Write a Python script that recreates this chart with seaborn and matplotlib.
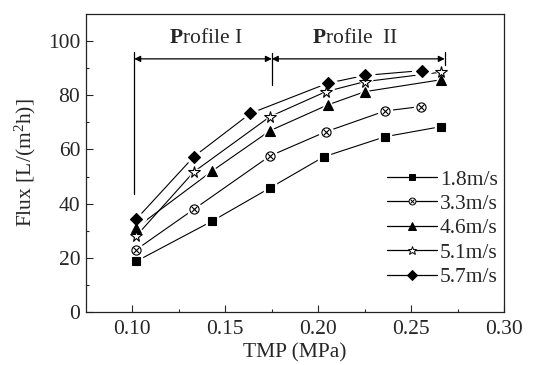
import matplotlib
matplotlib.use("Agg")
import matplotlib.pyplot as plt
import seaborn as sns
import pandas as pd
from matplotlib.lines import Line2D
from matplotlib.legend_handler import HandlerTuple

# ---- data ----
labels = ["1.8m/s", "3.3m/s", "4.6m/s", "5.1m/s", "5.7m/s"]
x_18 = [0.102, 0.143, 0.174, 0.203, 0.236, 0.266]
y_18 = [18.7, 33.6, 45.8, 57.3, 64.7, 68.4]
x_33 = [0.102, 0.133, 0.174, 0.204, 0.236, 0.255]
y_33 = [23.0, 37.9, 57.6, 66.5, 74.2, 75.8]
x_46 = [0.102, 0.143, 0.174, 0.205, 0.225, 0.266]
y_46 = [31.1, 52.1, 66.9, 76.4, 81.3, 85.7]
x_51 = [0.102, 0.133, 0.174, 0.204, 0.225, 0.266]
y_51 = [28.0, 51.7, 72.1, 81.3, 85.0, 88.5]
x_57 = [0.102, 0.133, 0.1635, 0.205, 0.225, 0.256]
y_57 = [34.2, 57.3, 73.3, 84.4, 87.3, 89.1]
xticks = [0.10, 0.15, 0.20, 0.25, 0.30]
yticks = [0, 20, 40, 60, 80, 100]

sns.set_style("ticks")
plt.rcParams["font.family"] = ["Liberation Serif", "DejaVu Serif"]
plt.rcParams["mathtext.fontset"] = "custom"
plt.rcParams["mathtext.rm"] = "Liberation Serif"
plt.rcParams["mathtext.it"] = "Liberation Serif:italic"
plt.rcParams["mathtext.bf"] = "Liberation Serif:bold"

FS = 15.5
fig = plt.figure(figsize=(5.37, 3.65), dpi=100)
ax = fig.add_axes([0.160, 0.145, 0.779, 0.817])

series = [
    (x_18, y_18, "s", "k", 5.8),
    (x_33, y_33, "o", "white", 6.6),
    (x_46, y_46, "^", "k", 7.5),
    (x_51, y_51, "*", "white", 8.5),
    (x_57, y_57, "D", "k", 6.3),
]

handles = []
for (xs, ys, mk, fc, ms), lab in zip(series, labels):
    df = pd.DataFrame({"x": xs, "y": ys})
    sns.lineplot(data=df, x="x", y="y", ax=ax, color="k", lw=0.8,
                 sort=False, zorder=2)
    # white halo to make gaps around markers
    ax.plot(xs, ys, ls="none", marker=mk, ms=ms + 3.5, mfc="white",
            mec="white", zorder=3)
    ax.plot(xs, ys, ls="none", marker=mk, ms=ms, mfc=fc, mec="k",
            mew=0.8, zorder=4)
    if mk == "o":
        ax.plot(xs, ys, ls="none", marker="x", ms=ms * 0.62, mec="k",
                mew=0.8, zorder=5)
        h = (Line2D([], [], color="k", lw=0.9, marker="o", ms=ms * 0.75,
                    mfc="white", mec="k", mew=0.7),
             Line2D([], [], ls="none", marker="x", ms=ms * 0.47, mec="k",
                    mew=0.7))
    else:
        h = Line2D([], [], color="k", lw=0.9, marker=mk, ms=ms * 0.75,
                   mfc=fc, mec="k", mew=0.7)
    handles.append(h)

ax.set_xlim(0.075, 0.30)
ax.set_ylim(0, 110)
ax.set_xticks(xticks)
ax.set_xticklabels([f"{v:.2f}" for v in xticks])
ax.set_yticks(yticks)
ax.set_xticks([0.125, 0.175, 0.225, 0.275], minor=True)
ax.set_yticks([10, 30, 50, 70, 90], minor=True)
ax.tick_params(which="major", direction="in", length=5, width=0.8,
               labelsize=FS, pad=4)
ax.tick_params(axis="x", which="major", pad=6)
ax.tick_params(which="minor", direction="in", length=2.5, width=0.8)
for sp in ax.spines.values():
    sp.set_linewidth(0.9)
    sp.set_color("#222222")
ax.set_xlabel("TMP (MPa)", fontsize=FS, labelpad=3)
ax.set_ylabel("Flux [L/(m$^2$h)]", fontsize=FS, labelpad=7)

# profile annotations
ax.plot([0.101, 0.101], [43.7, 96.1], color="k", lw=0.9, zorder=1)
ax.plot([0.175, 0.175], [83.8, 95.5], color="k", lw=0.9, zorder=1)
ax.plot([0.268, 0.268], [91.0, 95.9], color="k", lw=0.9, zorder=1)
arrow = dict(arrowstyle="<|-|>", color="k", lw=0.9, mutation_scale=9,
             shrinkA=0, shrinkB=0)
ax.annotate("", xy=(0.101, 93.4), xytext=(0.175, 93.4), arrowprops=arrow)
ax.annotate("", xy=(0.175, 93.4), xytext=(0.268, 93.4), arrowprops=arrow)
ax.text(0.1395, 100.8, "$\\mathbf{P}$rofile I", ha="center", va="center",
        fontsize=FS)
ax.text(0.2195, 100.8, "$\\mathbf{P}$rofile  II", ha="center", va="center",
        fontsize=FS)

leg = ax.legend(handles, labels, loc="lower right",
                bbox_to_anchor=(1.005, 0.055), frameon=False, fontsize=FS,
                handlelength=2.3, handletextpad=0.15, labelspacing=0.2,
                borderaxespad=0,
                handler_map={tuple: HandlerTuple(ndivide=1, pad=0)})

fig.savefig("out.png", dpi=100)
